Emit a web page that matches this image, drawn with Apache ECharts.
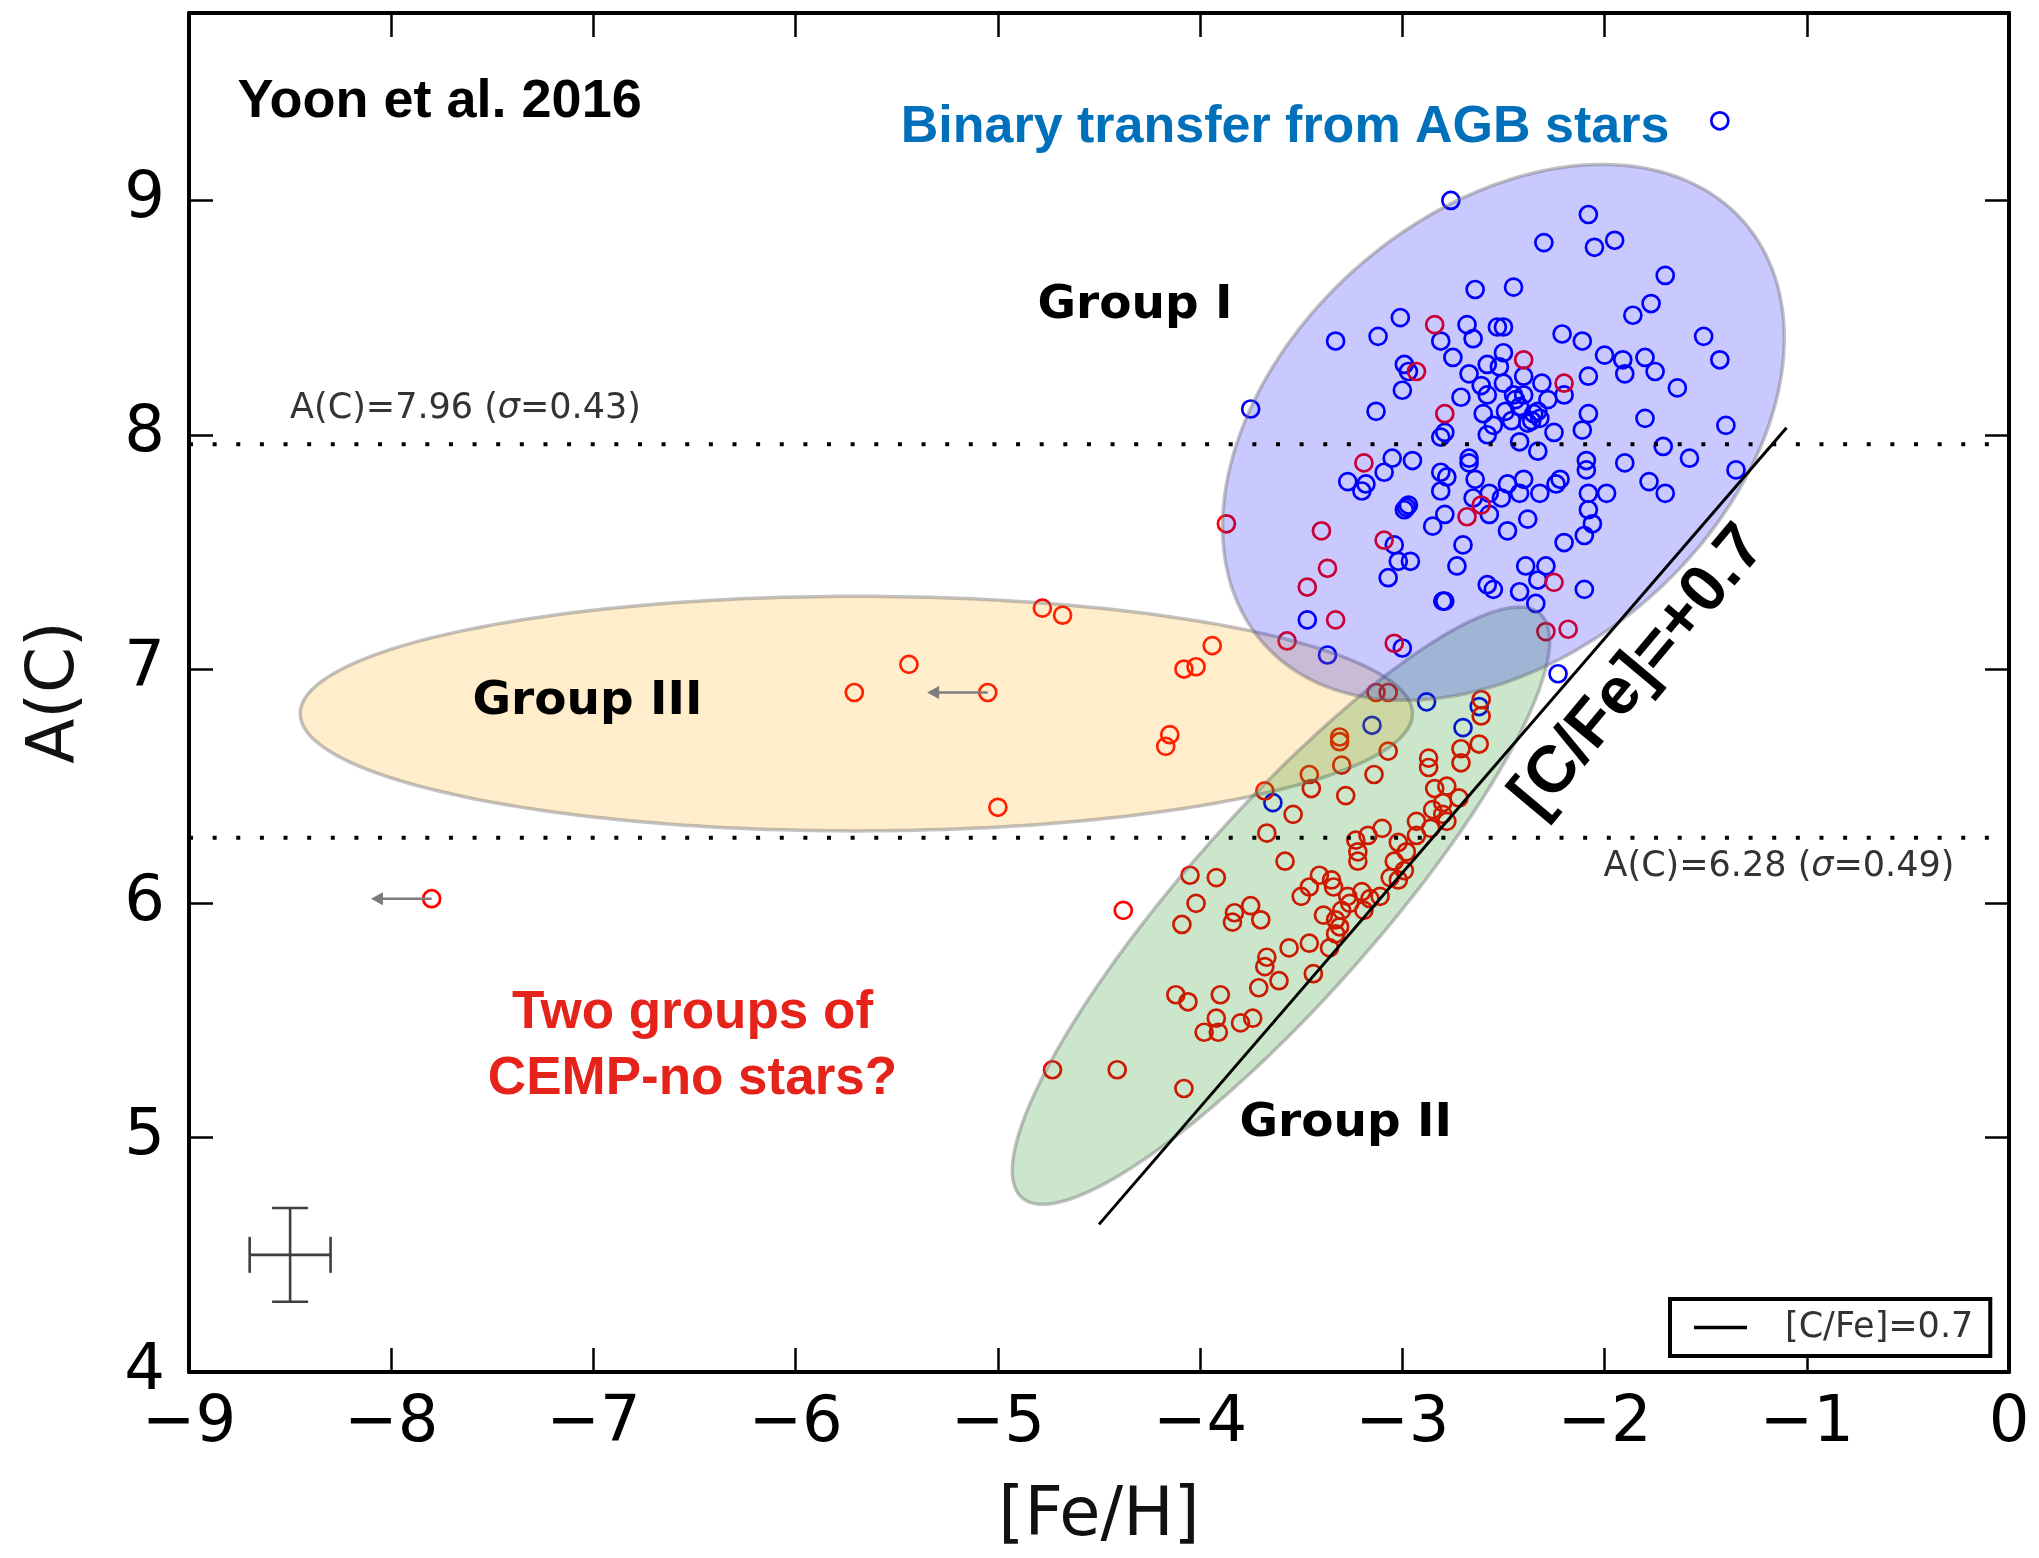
<!DOCTYPE html>
<html>
<head>
<meta charset="utf-8">
<title>A(C) vs [Fe/H]</title>
<script src="https://cdn.jsdelivr.net/npm/echarts@6/dist/echarts.min.js"></script>
<style>
  html, body { margin: 0; padding: 0; background: #fff; }
  #chart { width: 2039px; height: 1558px; }
</style>
</head>
<body>
<div id="chart"></div>
<script>
// ---- axis ticks ----
const feTicks = [-9, -8, -7, -6, -5, -4, -3, -2, -1, 0];
const acTicks = [4, 5, 6, 7, 8, 9];
const acTop = 9.8;

// ---- CEMP-s stars ([Fe/H], A(C)) ----
const cempS = [
  [-1.43,9.34],[-2.76,9.00],[-2.08,8.94],[-2.30,8.82],[-2.05,8.80],[-1.95,8.83],[-1.70,8.68],
  [-2.64,8.62],[-2.45,8.63],[-1.77,8.56],[-1.86,8.51],[-3.01,8.50],[-2.68,8.47],[-2.53,8.46],
  [-2.50,8.46],[-3.33,8.40],[-3.12,8.42],[-2.81,8.40],[-2.65,8.41],[-2.21,8.43],[-2.11,8.40],
  [-1.51,8.42],[-1.43,8.32],[-2.75,8.33],[-2.50,8.35],[-2.00,8.34],[-1.91,8.32],[-1.80,8.33],
  [-2.99,8.30],[-2.97,8.27],[-2.67,8.26],[-2.58,8.30],[-2.52,8.29],[-1.75,8.27],[-1.90,8.26],
  [-2.08,8.25],[-1.64,8.20],[-3.00,8.19],[-2.71,8.16],[-2.61,8.21],[-2.58,8.17],[-2.50,8.22],
  [-2.45,8.17],[-2.40,8.25],[-2.31,8.22],[-2.28,8.15],[-2.20,8.17],[-3.75,8.11],[-3.13,8.10],
  [-2.60,8.09],[-2.49,8.10],[-2.35,8.09],[-2.32,8.07],[-2.08,8.09],[-1.80,8.07],[-1.40,8.04],
  [-2.44,8.15],[-2.40,8.17],[-2.36,8.06],[-2.33,8.10],[-2.38,8.05],[-2.46,8.06],[-2.55,8.04],
  [-2.42,8.12],[-2.79,8.01],[-2.81,7.99],[-2.58,8.00],[-2.42,7.97],[-2.33,7.93],[-2.25,8.01],
  [-2.11,8.02],[-1.71,7.95],[-1.58,7.90],[-1.35,7.85],[-3.05,7.90],[-2.95,7.89],[-3.09,7.84],
  [-3.27,7.80],[-3.18,7.79],[-3.20,7.76],[-2.81,7.84],[-2.78,7.82],[-2.81,7.76],[-2.67,7.90],
  [-2.67,7.88],[-2.64,7.81],[-2.57,7.75],[-2.48,7.79],[-2.40,7.81],[-2.42,7.75],[-2.32,7.75],
  [-2.24,7.79],[-2.22,7.81],[-2.09,7.89],[-2.09,7.85],[-1.90,7.88],[-1.78,7.80],[-1.70,7.75],
  [-2.08,7.75],[-1.99,7.75],[-2.98,7.69],[-2.97,7.70],[-2.99,7.68],[-2.65,7.73],[-2.51,7.73],
  [-2.57,7.66],[-2.79,7.66],[-2.85,7.61],[-2.38,7.64],[-2.48,7.59],[-2.08,7.68],[-2.06,7.62],
  [-2.10,7.57],[-2.20,7.54],[-2.70,7.53],[-3.04,7.53],[-3.02,7.46],[-2.96,7.46],[-3.07,7.39],
  [-2.73,7.44],[-2.39,7.44],[-2.29,7.44],[-2.33,7.38],[-2.10,7.34],[-2.58,7.36],[-2.55,7.34],
  [-2.42,7.33],[-2.34,7.28],[-2.79,7.29],[-2.80,7.29],[-3.47,7.21],[-3.00,7.09],[-3.37,7.06],
  [-2.23,6.98],[-2.88,6.86],[-2.62,6.84],[-3.15,6.76],[-2.70,6.75],[-3.64,6.43]
];

// ---- CEMP-no stars ([Fe/H], A(C)) ----
const cempNo = [
  [-2.84,8.47],[-2.40,8.32],[-2.93,8.27],[-2.20,8.22],[-2.79,8.09],[-3.19,7.88],[-2.61,7.70],
  [-2.68,7.65],[-3.87,7.62],[-3.40,7.59],[-3.09,7.55],[-3.37,7.43],[-3.47,7.35],[-2.25,7.37],
  [-3.33,7.21],[-2.29,7.16],[-2.18,7.17],[-3.57,7.12],[-3.04,7.11],[-3.13,6.90],[-3.07,6.90],
  [-2.61,6.87],[-2.61,6.80],
  [-4.78,7.26],[-4.68,7.23],[-5.44,7.02],[-5.71,6.90],[-5.05,6.90],[-3.94,7.10],[-4.08,7.00],
  [-4.02,7.01],[-4.15,6.72],[-4.17,6.67],[-5.00,6.41],[-7.80,6.02],
  [-3.31,6.71],[-3.31,6.69],[-3.30,6.59],[-3.07,6.65],[-2.87,6.62],[-2.87,6.58],[-2.71,6.66],
  [-2.71,6.60],[-2.62,6.68],[-3.14,6.55],[-3.46,6.55],[-3.45,6.49],[-3.68,6.48],[-3.28,6.46],
  [-3.54,6.38],[-2.84,6.49],[-2.78,6.50],[-2.72,6.45],[-2.80,6.43],[-2.85,6.40],[-2.80,6.38],
  [-2.93,6.35],[-2.86,6.32],[-2.93,6.29],[-3.10,6.32],[-2.78,6.35],[-3.67,6.30],[-3.23,6.27],
  [-3.17,6.29],[-3.22,6.22],[-3.22,6.18],[-3.02,6.26],[-2.98,6.22],[-3.04,6.18],[-2.99,6.14],
  [-3.06,6.11],[-3.02,6.10],[-3.58,6.18],[-4.05,6.12],[-3.92,6.11],[-3.41,6.12],[-3.46,6.07],
  [-3.35,6.10],[-3.50,6.03],[-3.34,6.07],[-3.27,6.03],[-3.20,6.05],[-3.16,6.02],[-3.11,6.03],
  [-3.26,6.00],[-3.30,5.97],[-3.19,5.97],[-3.39,5.95],[-3.33,5.93],[-3.31,5.90],[-3.33,5.87],
  [-4.02,6.00],[-4.09,5.91],[-3.83,5.96],[-3.75,5.99],[-3.84,5.92],[-3.70,5.93],[-3.56,5.81],
  [-3.46,5.83],[-3.36,5.81],[-3.67,5.77],
  [-4.73,5.29],[-4.41,5.29],[-4.08,5.21],[-4.38,5.97],[-4.12,5.61],[-4.06,5.58],[-3.90,5.61],
  [-3.71,5.64],[-3.61,5.67],[-3.68,5.73],[-3.44,5.70],[-3.92,5.51],[-3.98,5.45],[-3.91,5.45],
  [-3.80,5.49],[-3.74,5.51]
];

// stars with only an upper limit on [Fe/H]
const upperLimits = [[-5.05, 6.90], [-7.80, 6.02]];
const limitArrowLength = 0.3;

// mean carbon levels of the two CEMP-no sub-groups
const meanAC = [7.96, 6.28];
const meanSigma = [0.43, 0.49];

// [C/Fe] = +0.7 boundary
const cfeValue = 0.7;
const solarC = 8.43;
const cfeRange = [-4.5, -1.1];

// typical measurement error
const errCenter = [-8.5, 4.5];
const errSize = [0.2, 0.2];

// group regions: centre, semi-axes (in [Fe/H] units), tilt in degrees
const groupNames = ['Group III', 'Group II', 'Group I'];
const groupCenters = [[-5.70, 6.81], [-3.60, 5.99], [-2.50, 8.01]];
const groupAxes = [[2.75, 0.58], [1.93, 0.47], [1.58, 1.09]];
const groupTilt = [0, 48.4, 41.2];

// ---- styling ----
const groupFill = ['rgba(255,165,0,0.2)', 'rgba(0,128,0,0.2)', 'rgba(0,0,255,0.21)'];
const groupEdge = 'rgba(110,110,110,0.42)';
const sans = 'DejaVu Sans';
const heavy = 'Liberation Sans';

const meanLabel = (i) => 'A(C)=' + meanAC[i].toFixed(2) + ' ({it|\u03c3}=' + meanSigma[i].toFixed(2) + ')';
const fmtMinus = (v) => String(v).replace('-', '\u2212');

// annotation texts and where they sit (data coordinates)
const notes = [
  { text: 'Yoon et al. 2016', at: [-8.76, 9.42], font: [heavy, 54, 'bold'], fill: '#000', align: 'left' },
  { text: 'Binary transfer from AGB stars', at: [-3.58, 9.31], font: [heavy, 52, 'bold'], fill: '#0070bb', align: 'center' },
  { text: groupNames[2], at: [-3.84, 8.55], font: [sans, 47, 'bold'], fill: '#000', align: 'right' },
  { text: groupNames[1], at: [-3.28, 5.06], font: [sans, 47, 'bold'], fill: '#000', align: 'center' },
  { text: groupNames[0], at: [-7.03, 6.86], font: [sans, 47, 'bold'], fill: '#000', align: 'center' },
  { text: 'Two groups of', at: [-6.51, 5.53], font: [heavy, 53, 'bold'], fill: '#e5231b', align: 'center' },
  { text: 'CEMP-no stars?', at: [-6.51, 5.25], font: [heavy, 53, 'bold'], fill: '#e5231b', align: 'center' },
  { text: '[C/Fe]=+0.7', at: [-1.83, 6.99], font: [heavy, 66, 'bold'], fill: '#000', align: 'center', rot: 50 },
  { text: meanLabel(0), at: [-8.50, 8.11], font: [sans, 35, 'normal'], fill: '#333', align: 'left' },
  { text: meanLabel(1), at: [-0.27, 6.155], font: [sans, 35, 'normal'], fill: '#333', align: 'right' }
];

// ---- chart ----
const chart = echarts.init(document.getElementById('chart'), null, { renderer: 'canvas' });

const axisLineStyle = { color: '#000', width: 4 };
const tickStyle = { color: '#000', width: 2.5 };

function ellipseItem(params, api) {
  const c = api.coord([api.value(0), api.value(1)]);
  const unit = api.size([1, 0])[0];
  const a = api.value(2) * unit;
  const b = api.value(3) * unit;
  const th = api.value(4) * Math.PI / 180;
  const idx = api.value(5);
  const pts = [];
  const n = 240;
  for (let k = 0; k < n; k++) {
    const t = (k / n) * Math.PI * 2;
    const u = a * Math.cos(t), v = b * Math.sin(t);
    pts.push([c[0] + u * Math.cos(th) + v * Math.sin(th), c[1] - u * Math.sin(th) + v * Math.cos(th)]);
  }
  return {
    type: 'polygon',
    shape: { points: pts },
    style: { fill: groupFill[idx], stroke: groupEdge, lineWidth: 3.5 }
  };
}

function arrowItem(params, api) {
  const x = api.value(0), y = api.value(1);
  const p0 = api.coord([x, y]);
  const p1 = api.coord([x - limitArrowLength, y]);
  const head = 12, half = 6.5;
  return {
    type: 'group',
    children: [
      { type: 'line', shape: { x1: p0[0], y1: p0[1], x2: p1[0] + head - 1, y2: p1[1] },
        style: { stroke: '#7c7c7c', lineWidth: 2.4 } },
      { type: 'polygon', shape: { points: [[p1[0], p1[1]], [p1[0] + head, p1[1] - half], [p1[0] + head, p1[1] + half]] },
        style: { fill: '#7c7c7c' } }
    ]
  };
}

function errorItem(params, api) {
  const x = api.value(0), y = api.value(1), ex = api.value(2), ey = api.value(3);
  const l = api.coord([x - ex, y]), r = api.coord([x + ex, y]);
  const t = api.coord([x, y + ey]), b = api.coord([x, y - ey]);
  const cap = 18;
  const st = { stroke: '#3f3f3f', lineWidth: 2.6 };
  const seg = (x1, y1, x2, y2) => ({ type: 'line', shape: { x1, y1, x2, y2 }, style: st });
  return {
    type: 'group',
    children: [
      seg(l[0], l[1], r[0], r[1]),
      seg(t[0], t[1], b[0], b[1]),
      seg(l[0], l[1] - cap, l[0], l[1] + cap),
      seg(r[0], r[1] - cap, r[0], r[1] + cap),
      seg(t[0] - cap, t[1], t[0] + cap, t[1]),
      seg(b[0] - cap, b[1], b[0] + cap, b[1])
    ]
  };
}

function noteItem(params, api) {
  const note = notes[api.value(2)];
  const p = api.coord([api.value(0), api.value(1)]);
  return {
    type: 'text',
    x: p[0], y: p[1],
    rotation: (note.rot || 0) * Math.PI / 180,
    style: {
      text: note.text,
      fill: note.fill,
      fontFamily: note.font[0],
      fontSize: note.font[1],
      fontWeight: note.font[2],
      align: note.align,
      verticalAlign: 'middle',
      rich: {
        it: { fontFamily: note.font[0], fontSize: note.font[1], fontStyle: 'italic', fill: note.fill }
      }
    }
  };
}

const openCircle = (color) => ({
  color: 'rgba(0,0,0,0)', borderColor: color, borderWidth: 2.7, opacity: 1
});

const option = {
  animation: false,
  backgroundColor: '#fff',
  grid: { left: 189, right: 30, top: 13, bottom: 186, containLabel: false, outerBoundsMode: 'none' },
  legend: {
    data: [{ name: '[C/Fe]=0.7', icon: 'rect' }],
    left: 1670, top: 1299,
    padding: [11, 17, 11, 24],
    itemWidth: 53, itemHeight: 3.5,
    itemStyle: { color: '#000', borderWidth: 0 },
    borderColor: '#000', borderWidth: 4, borderRadius: 0,
    backgroundColor: '#fff',
    selectedMode: false,
    textStyle: { fontFamily: sans, fontSize: 35, color: '#333', padding: [0, 0, 0, 33] }
  },
  xAxis: [
    {
      type: 'value', position: 'bottom',
      min: feTicks[0], max: feTicks[feTicks.length - 1], interval: 1,
      name: '[Fe/H]', nameLocation: 'middle', nameGap: 112,
      nameTextStyle: { fontFamily: sans, fontSize: 67, color: '#111' },
      axisLine: { show: true, onZero: false, lineStyle: axisLineStyle },
      axisTick: { show: true, inside: true, length: 24, lineStyle: tickStyle },
      axisLabel: { show: true, fontFamily: sans, fontSize: 64, color: '#000', margin: 20, formatter: fmtMinus },
      splitLine: { show: false }
    },
    {
      type: 'value', position: 'top',
      min: feTicks[0], max: feTicks[feTicks.length - 1], interval: 1,
      axisLine: { show: true, onZero: false, lineStyle: axisLineStyle },
      axisTick: { show: true, inside: true, length: 24, lineStyle: tickStyle },
      axisLabel: { show: false },
      splitLine: { show: false }
    }
  ],
  yAxis: [
    {
      type: 'value', position: 'left',
      min: acTicks[0], max: acTop, interval: 1,
      name: 'A(C)', nameLocation: 'middle', nameGap: 100,
      nameTextStyle: { fontFamily: sans, fontSize: 66, color: '#111' },
      axisLine: { show: true, onZero: false, lineStyle: axisLineStyle },
      axisTick: { show: true, inside: true, length: 24, lineStyle: tickStyle },
      axisLabel: {
        show: true, fontFamily: sans, fontSize: 64, color: '#000', margin: 24, showMaxLabel: false,
        formatter: (v) => (acTicks.indexOf(v) >= 0 ? String(v) : '')
      },
      splitLine: { show: false }
    },
    {
      type: 'value', position: 'right',
      min: acTicks[0], max: acTop, interval: 1,
      axisLine: { show: true, onZero: false, lineStyle: axisLineStyle },
      axisTick: { show: true, inside: true, length: 24, lineStyle: tickStyle },
      axisLabel: { show: false },
      splitLine: { show: false }
    }
  ],
  series: [
    {
      name: 'CEMP-s', type: 'scatter', data: cempS, symbol: 'circle', symbolSize: 17,
      itemStyle: openCircle('#0000ff'), z: 2, silent: true
    },
    {
      name: 'CEMP-no', type: 'scatter', data: cempNo, symbol: 'circle', symbolSize: 17,
      itemStyle: openCircle('#ff0000'), z: 2, silent: true
    },
    {
      name: 'groups', type: 'custom', renderItem: ellipseItem, clip: false, silent: true, z: 3,
      data: groupCenters.map((c, i) => [c[0], c[1], groupAxes[i][0], groupAxes[i][1], groupTilt[i], i])
    },
    {
      name: '[C/Fe]=0.7', type: 'line', symbol: 'none', silent: true, z: 4,
      data: cfeRange.map((f) => [f, f + solarC + cfeValue]),
      lineStyle: { color: '#000', width: 3 }, itemStyle: { color: '#000' }
    },
    ...meanAC.map((v, i) => ({
      name: 'mean' + i, type: 'line', symbol: 'none', silent: true, z: 4,
      data: [[feTicks[0], v], [feTicks[feTicks.length - 1], v]],
      lineStyle: { color: '#000', width: 4, type: [4, 19.63], cap: 'butt' }
    })),
    {
      name: 'limits', type: 'custom', renderItem: arrowItem, clip: false, silent: true, z: 5,
      data: upperLimits
    },
    {
      name: 'error', type: 'custom', renderItem: errorItem, clip: false, silent: true, z: 5,
      data: [[errCenter[0], errCenter[1], errSize[0], errSize[1]]]
    },
    {
      name: 'notes', type: 'custom', renderItem: noteItem, clip: false, silent: true, z: 6,
      data: notes.map((n, i) => [n.at[0], n.at[1], i])
    }
  ]
};

chart.setOption(option);
</script>
</body>
</html>
